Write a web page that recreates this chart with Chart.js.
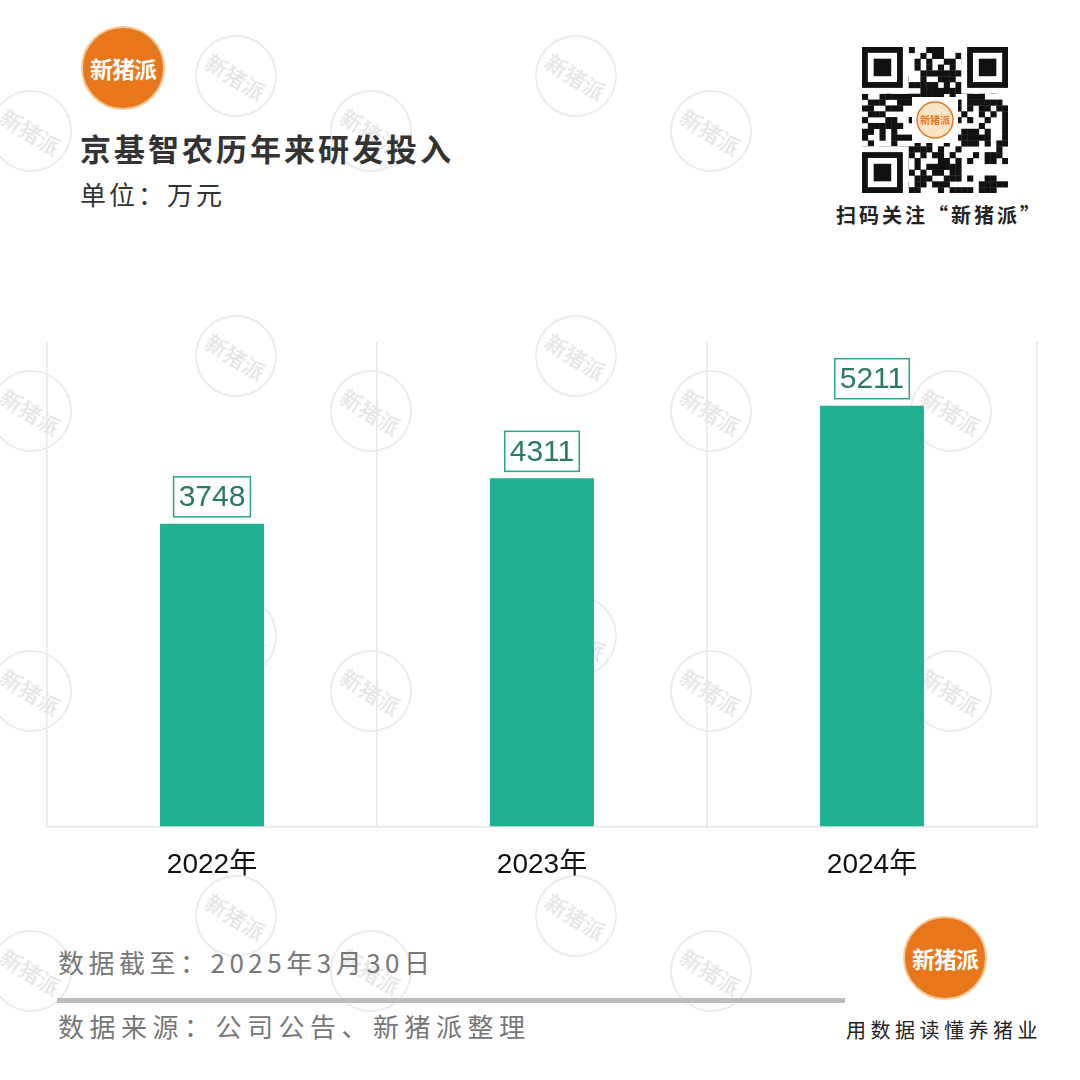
<!DOCTYPE html>
<html>
<head>
<meta charset="utf-8">
<script src="https://cdn.jsdelivr.net/npm/chart.js@4/dist/chart.umd.min.js"></script>
<style>
  html, body { margin: 0; padding: 0; background: #fff; }
  body { width: 1080px; height: 1080px; position: relative; overflow: hidden;
         font-family: "Noto Sans CJK SC", "Noto Sans", sans-serif; }
  .abs { position: absolute; }
  .wm { position: absolute; width: 78px; height: 78px; border: 2px solid #ececec; border-radius: 50%;
        color: #e6e6e6; font-size: 22px; line-height: 78px; text-align: center; transform: rotate(32deg);
        font-weight: 500; z-index: 0; }
  .logo { position: absolute; width: 84px; height: 84px; border-radius: 50%; background: #E8761B;
          border: 2px solid #f4c89a; box-sizing: border-box; color: #fff; font-size: 23px; font-weight: 700;
          line-height: 80px; text-align: center; letter-spacing: -1px; z-index: 2; }
  #chartBox { position: absolute; left: 0; top: 300px; width: 1080px; height: 604px; z-index: 1; }
</style>
</head>
<body>
<div id="wms"></div>

<div class="logo" style="left:81px; top:26px;">新猪派</div>
<div class="abs" style="left:80px; top:125px; font-size:31px; font-weight:700; color:#333; letter-spacing:3px; z-index:2;">京基智农历年来研发投入</div>
<div class="abs" style="left:80px; top:175px; font-size:26px; color:#333; letter-spacing:3px; z-index:2;">单位：万元</div>

<canvas id="qr" class="abs" width="146" height="146" style="left:862px; top:47px; z-index:2;"></canvas>
<div class="abs" style="left:836px; top:200px; font-size:20px; font-weight:700; color:#222; letter-spacing:3px; z-index:2;">扫码关注“新猪派”</div>

<div id="chartBox"><canvas id="chart"></canvas></div>

<div class="abs" style="left:58px; top:943px; font-size:26px; color:#777; letter-spacing:4.5px; z-index:2;">数据截至：2025年3月30日</div>
<div class="abs" style="left:57px; top:998px; width:788px; height:5px; background:#bdbdbd; z-index:2;"></div>
<div class="abs" style="left:58px; top:1007px; font-size:26px; color:#777; letter-spacing:5.5px; z-index:2;">数据来源：公司公告、新猪派整理</div>

<div class="logo" style="left:903px; top:916px;">新猪派</div>
<div class="abs" style="left:846px; top:1015px; font-size:20px; color:#222; letter-spacing:4.5px; z-index:2;">用数据读懂养猪业</div>

<script>
const years = ['2022年', '2023年', '2024年'];
const rdSpend = [3748, 4311, 5211];
const yMax = 6000;

// faint background watermarks
const wmSpots = [
  [235, 75], [575, 75], [30, 130], [370, 130], [710, 130],
  [235, 355], [575, 355], [30, 410], [370, 410], [710, 410], [950, 410],
  [235, 635], [575, 635], [30, 690], [370, 690], [710, 690], [950, 690],
  [235, 915], [575, 915], [30, 970], [370, 970], [710, 970]
];
const wms = document.getElementById('wms');
wmSpots.forEach(([x, y]) => {
  const d = document.createElement('div');
  d.className = 'wm';
  d.style.left = (x - 40) + 'px';
  d.style.top = (y - 40) + 'px';
  d.textContent = '新猪派';
  wms.appendChild(d);
});

// decorative QR-like block
(function drawQr() {
  const c = document.getElementById('qr');
  const g = c.getContext('2d');
  const n = 25, s = 146 / n;
  g.fillStyle = '#fff';
  g.fillRect(0, 0, 146, 146);
  g.fillStyle = '#111';
  let h = 7;
  for (let r = 0; r < n; r++) {
    for (let q = 0; q < n; q++) {
      h = (h * 1103515245 + 12345) & 0x7fffffff;
      if ((h >> 16) % 100 < 52) g.fillRect(q * s, r * s, s + 0.3, s + 0.3);
    }
  }
  const finder = (x, y) => {
    g.fillStyle = '#fff'; g.fillRect(x * s - s, y * s - s, 9 * s, 9 * s);
    g.fillStyle = '#111'; g.fillRect(x * s, y * s, 7 * s, 7 * s);
    g.fillStyle = '#fff'; g.fillRect((x + 1) * s, (y + 1) * s, 5 * s, 5 * s);
    g.fillStyle = '#111'; g.fillRect((x + 2) * s, (y + 2) * s, 3 * s, 3 * s);
  };
  finder(0, 0); finder(n - 7, 0); finder(0, n - 7);
  g.fillStyle = '#fff';
  g.fillRect(50, 50, 46, 46);
  g.beginPath(); g.arc(73, 73, 18, 0, Math.PI * 2);
  g.fillStyle = '#fbe3c8'; g.fill();
  g.lineWidth = 1.5; g.strokeStyle = '#E8761B'; g.stroke();
  g.fillStyle = '#E8761B';
  g.font = 'bold 10px "Noto Sans CJK SC"';
  g.textAlign = 'center'; g.textBaseline = 'middle';
  g.fillText('新猪派', 73, 73);
})();

// boxed value labels above bars
const boxLabels = {
  id: 'boxLabels',
  afterDatasetsDraw(chart) {
    const ctx = chart.ctx;
    const meta = chart.getDatasetMeta(0);
    ctx.save();
    ctx.font = '30px "Liberation Sans", Arial, sans-serif';
    ctx.textAlign = 'center';
    ctx.textBaseline = 'middle';
    meta.data.forEach((bar, i) => {
      const txt = String(rdSpend[i]);
      const w = ctx.measureText(txt).width + 10;
      const hgt = 40;
      const bottom = bar.y - 7;
      ctx.strokeStyle = '#2aa58a';
      ctx.lineWidth = 1.5;
      ctx.fillStyle = '#fff';
      ctx.fillRect(bar.x - w / 2, bottom - hgt, w, hgt);
      ctx.strokeRect(bar.x - w / 2, bottom - hgt, w, hgt);
      ctx.fillStyle = '#2b7a68';
      ctx.fillText(txt, bar.x, bottom - hgt / 2 + 1);
    });
    ctx.restore();
  }
};

new Chart(document.getElementById('chart'), {
  type: 'bar',
  data: {
    labels: years,
    datasets: [{
      data: rdSpend,
      backgroundColor: '#20B193',
      categoryPercentage: 1,
      barPercentage: 0.315
    }]
  },
  options: {
    responsive: true,
    maintainAspectRatio: false,
    animation: false,
    layout: { padding: { left: 47, right: 43, top: 42, bottom: 0 } },
    plugins: { legend: { display: false }, tooltip: { enabled: false } },
    scales: {
      x: {
        grid: { display: true, offset: true, color: '#e6e6e6', lineWidth: 1.5, drawTicks: false },
        border: { display: true, color: '#e6e6e6', width: 1.5 },
        ticks: {
          color: '#111',
          padding: 22,
          font: { size: 28, family: '"Liberation Sans", "Noto Sans CJK SC", sans-serif' }
        }
      },
      y: {
        display: false,
        min: 0,
        max: yMax
      }
    }
  },
  plugins: [boxLabels]
});
</script>
</body>
</html>
